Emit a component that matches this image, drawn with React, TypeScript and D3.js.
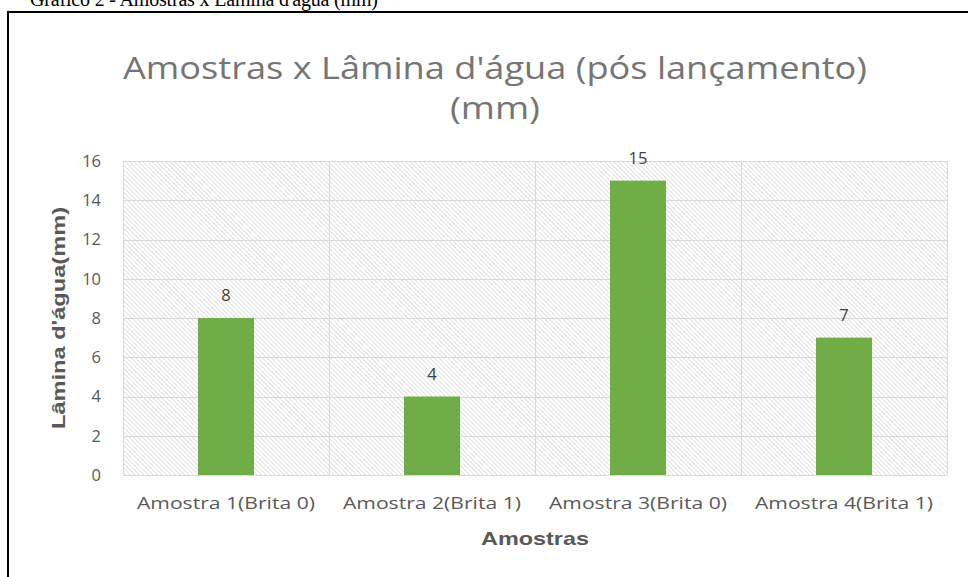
import React, { useRef, useEffect } from 'react';
import * as d3 from 'd3';

const categories = ['Amostra 1(Brita 0)', 'Amostra 2(Brita 1)', 'Amostra 3(Brita 0)', 'Amostra 4(Brita 1)'];
const values = [8, 4, 15, 7];
const yTicks = [0, 2, 4, 6, 8, 10, 12, 14, 16];

function App() {
  const svgRef = useRef<SVGSVGElement>(null);

  useEffect(() => {
    const w = 968;
    const h = 577;
    const svg = d3.select(svgRef.current).attr('width', w).attr('height', h);
    svg.selectAll('*').remove();

    const left = 123, right = 947, top = 161, bottom = 475;
    const font = "'Open Sans', sans-serif";

    // hatch pattern
    const defs = svg.append('defs');
    const pat = defs.append('pattern')
      .attr('id', 'hatch')
      .attr('patternUnits', 'userSpaceOnUse')
      .attr('width', 3.2)
      .attr('height', 3.2)
      .attr('patternTransform', 'rotate(45)');
    pat.append('line')
      .attr('x1', 0).attr('y1', 0).attr('x2', 3.2).attr('y2', 0)
      .attr('stroke', '#cfcfcf').attr('stroke-width', 1.2);

    // caption above frame (cut off at top like the source)
    svg.append('text')
      .attr('x', 30).attr('y', 6)
      .attr('font-family', "'Liberation Serif', serif")
      .attr('font-size', 20)
      .attr('textLength', 348)
      .attr('fill', '#000')
      .text("Gráfico 2 - Amostras x Lâmina d'água (mm)");

    // frame
    svg.append('path')
      .attr('d', `M8,${h} L8,12 L${w},12`)
      .attr('fill', 'none')
      .attr('stroke', '#000')
      .attr('stroke-width', 2);

    // title, two lines
    svg.append('text')
      .attr('x', 495).attr('y', 79)
      .attr('text-anchor', 'middle')
      .attr('font-family', font)
      .attr('font-size', 31)
      .attr('textLength', 744)
      .attr('lengthAdjust', 'spacingAndGlyphs')
      .attr('fill', '#757575')
      .text("Amostras x Lâmina d'água (pós lançamento)");
    svg.append('text')
      .attr('x', 495).attr('y', 119)
      .attr('text-anchor', 'middle')
      .attr('font-family', font)
      .attr('font-size', 31)
      .attr('textLength', 90)
      .attr('lengthAdjust', 'spacingAndGlyphs')
      .attr('fill', '#757575')
      .text('(mm)');

    const x = d3.scaleBand().domain(categories).range([left, right]).paddingInner(0).paddingOuter(0);
    const y = d3.scaleLinear().domain([0, 16]).range([bottom, top]);

    // plot background hatch
    svg.append('rect')
      .attr('x', left).attr('y', top)
      .attr('width', right - left).attr('height', bottom - top)
      .attr('fill', 'url(#hatch)');

    // horizontal gridlines
    svg.append('g')
      .selectAll('line')
      .data(yTicks)
      .join('line')
      .attr('x1', left).attr('x2', right)
      .attr('y1', d => Math.round(y(d)) + 0.5).attr('y2', d => Math.round(y(d)) + 0.5)
      .attr('stroke', '#d9d9d9').attr('stroke-width', 1);

    // vertical separators
    const seps = categories.map(c => x(c)!).concat([right]);
    svg.append('g')
      .selectAll('line')
      .data(seps)
      .join('line')
      .attr('x1', d => Math.round(d) + 0.5).attr('x2', d => Math.round(d) + 0.5)
      .attr('y1', top).attr('y2', bottom)
      .attr('stroke', '#d9d9d9').attr('stroke-width', 1);

    // bars
    const barW = 56;
    svg.append('g')
      .selectAll('rect')
      .data(values)
      .join('rect')
      .attr('x', (d, i) => x(categories[i])! + x.bandwidth() / 2 - barW / 2)
      .attr('y', d => y(d))
      .attr('width', barW)
      .attr('height', d => bottom - y(d))
      .attr('fill', '#70ad47');

    // data labels
    svg.append('g')
      .selectAll('text')
      .data(values)
      .join('text')
      .attr('x', (d, i) => x(categories[i])! + x.bandwidth() / 2)
      .attr('y', d => y(d) - 17)
      .attr('text-anchor', 'middle')
      .attr('font-family', font)
      .attr('font-size', 16.5)
      .attr('fill', '#404040')
      .text(d => d);

    // y tick labels
    svg.append('g')
      .selectAll('text')
      .data(yTicks)
      .join('text')
      .attr('x', 101)
      .attr('y', d => y(d))
      .attr('dy', '0.35em')
      .attr('text-anchor', 'end')
      .attr('font-family', font)
      .attr('font-size', 16.5)
      .attr('fill', '#595959')
      .text(d => d);

    // x tick labels
    svg.append('g')
      .selectAll('text')
      .data(categories)
      .join('text')
      .attr('x', d => x(d)! + x.bandwidth() / 2)
      .attr('y', 509)
      .attr('text-anchor', 'middle')
      .attr('font-family', font)
      .attr('font-size', 17)
      .attr('textLength', 178)
      .attr('lengthAdjust', 'spacingAndGlyphs')
      .attr('fill', '#595959')
      .text(d => d);

    // axis titles
    svg.append('text')
      .attr('x', 535).attr('y', 545)
      .attr('text-anchor', 'middle')
      .attr('font-family', "'Liberation Sans', sans-serif")
      .attr('font-weight', 'bold')
      .attr('font-size', 19)
      .attr('textLength', 108)
      .attr('lengthAdjust', 'spacingAndGlyphs')
      .attr('fill', '#595959')
      .text('Amostras');

    svg.append('text')
      .attr('transform', `translate(65,${(top + bottom) / 2}) rotate(-90)`)
      .attr('text-anchor', 'middle')
      .attr('font-family', "'Liberation Sans', sans-serif")
      .attr('font-weight', 'bold')
      .attr('font-size', 18)
      .attr('textLength', 222)
      .attr('lengthAdjust', 'spacingAndGlyphs')
      .attr('fill', '#595959')
      .text("Lâmina d'água(mm)");
  }, []);

  return (
    <div style={{ position: 'absolute', left: 0, top: 0 }}>
      <svg ref={svgRef} style={{ display: 'block', background: '#fff' }}></svg>
    </div>
  );
}

export default App;
